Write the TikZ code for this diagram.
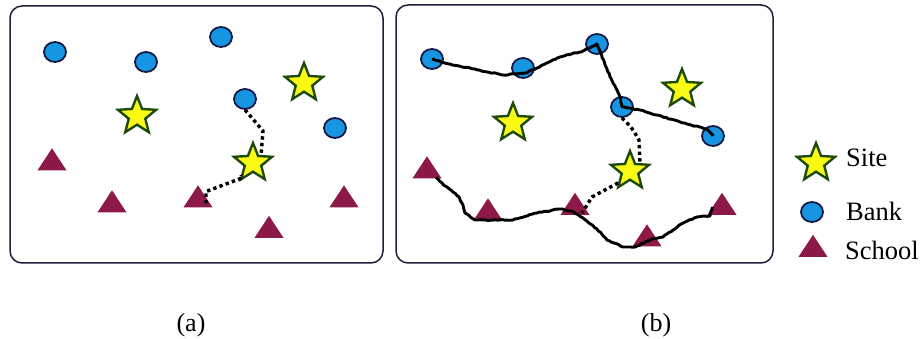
\documentclass[tikz,border=0pt]{standalone}
\usepackage{fontspec}
\setmainfont{Liberation Serif}
\usetikzlibrary{shapes.geometric,decorations.pathmorphing}
\definecolor{bankblue}{RGB}{22,150,226}
\definecolor{bankline}{RGB}{20,25,70}
\definecolor{starfill}{RGB}{250,250,20}
\definecolor{starline}{RGB}{30,75,10}
\definecolor{schoolred}{RGB}{140,25,72}
\definecolor{framecol}{RGB}{30,30,60}
\tikzset{
  panel/.style={draw=framecol,line width=1.5pt,rounded corners=12pt},
  bank/.style={ellipse,draw=bankline,fill=bankblue,line width=1.8pt,minimum width=22pt,minimum height=20pt,inner sep=0pt},
  site/.style={star,star points=5,star point ratio=2.3,draw=starline,fill=starfill,line width=2.4pt,minimum size=40pt,inner sep=0pt},
  school/.style={isosceles triangle,shape border rotate=90,isosceles triangle stretches,minimum width=29pt,minimum height=22pt,fill=schoolred,inner sep=0pt},
  dotlink/.style={line width=3.4pt,dash pattern=on 3.4pt off 3.2pt},
  road/.style={line width=2.9pt,line join=round,decorate,decoration={random steps,segment length=2.5pt,amplitude=0.5pt}},
  lbl/.style={font=\fontsize{26.5}{30}\selectfont,anchor=base west,inner sep=0pt},
  captext/.style={font=\fontsize{26}{30}\selectfont,anchor=base,inner sep=0pt}
}
\begin{document}
\begin{tikzpicture}[x=1pt,y=-1pt]
\useasboundingbox (0,0) rectangle (922,339);
% panels
\draw[panel] (10,6) rectangle (383,263);
\draw[panel] (396,5) rectangle (773,263);
% ---- panel (a)
\node[bank] (a1) at (55,52) {};
\node[bank] (a2) at (146,62) {};
\node[bank] (a3) at (221,37) {};
\node[bank] (a4) at (245,99) {};
\node[bank] (a5) at (335,128) {};
\node[site] (as1) at (137,116) {};
\node[site] (as2) at (304,83) {};
\node[site] (as3) at (253,163) {};
\node[school] (at1) at (52,162.5) {};
\node[school] (at2) at (112,204.5) {};
\node[school] (at3) at (198,199.5) {};
\node[school] (at4) at (269,230) {};
\node[school] (at5) at (344,199.5) {};
\coordinate (ad1) at (263,131);
\coordinate (ad2) at (242,178);
\draw[dotlink] (a4.south) .. controls (252,118) .. (ad1) -- (as3.north east);
\draw[dotlink] (at3.center) ++(8,4) coordinate (at3e) -- ++(0,-12) -- (ad2) -- (as3.south west);
% ---- panel (b)
\node[bank] (b1) at (432,59) {};
\node[bank] (b2) at (523,68) {};
\node[bank] (b3) at (597,44) {};
\node[bank] (b4) at (622,107) {};
\node[bank] (b5) at (713,136) {};
\node[site] (bs1) at (513,123) {};
\node[site] (bs2) at (682,89) {};
\node[site] (bs3) at (630,171) {};
\node[school] (bt1) at (427,170.5) {};
\node[school] (bt2) at (488,212.5) {};
\node[school] (bt3) at (575,207) {};
\node[school] (bt4) at (647,238.5) {};
\node[school] (bt5) at (722,207) {};
\draw[road] (b1.center) -- (445,63) -- (503,75) -- (525,73) -- (537,68) -- (560,57) -- (583,51) -- (b3.center) -- (605,65) -- (620,97) -- (b4.center) -- (640,110) -- (680,122) -- (707,129) -- (b5.center);
\draw[road] (bt1.center) ++(9,7) -- (445,186) -- (458,196) -- (463,205) -- (465,213) -- (475,220) -- (513,220) -- (537,213) -- (560,209) -- (572,211) -- (583,218) -- (597,229) -- (607,240) -- (623,247) -- (635,247) -- (650,240) -- (663,237) -- (673,230) -- (683,223) -- (697,217) -- (710,216) -- (bt5.west);
\coordinate (bd1) at (639,140);
\coordinate (bd2) at (592,197);
\draw[dotlink] (b4.south) .. controls (632,128) .. (bd1) -- (640,164);
\draw[dotlink] (bs3.south west) -- (bd2) -- (582,213);
% ---- legend
\node[site] (ls) at (816,163) {};
\node[bank] (lb) at (812,212) {};
\node[school] (lt) at (813,249) {};
\node[lbl] (lst) at (846,167) {Site};
\node[lbl] (lbt) at (846,221) {Bank};
\node[lbl] (ltt) at (845,260) {School};
% captions
\node[captext] (ca) at (191,332) {(a)};
\node[captext] (cb) at (656,332) {(b)};
\end{tikzpicture}
\end{document}
